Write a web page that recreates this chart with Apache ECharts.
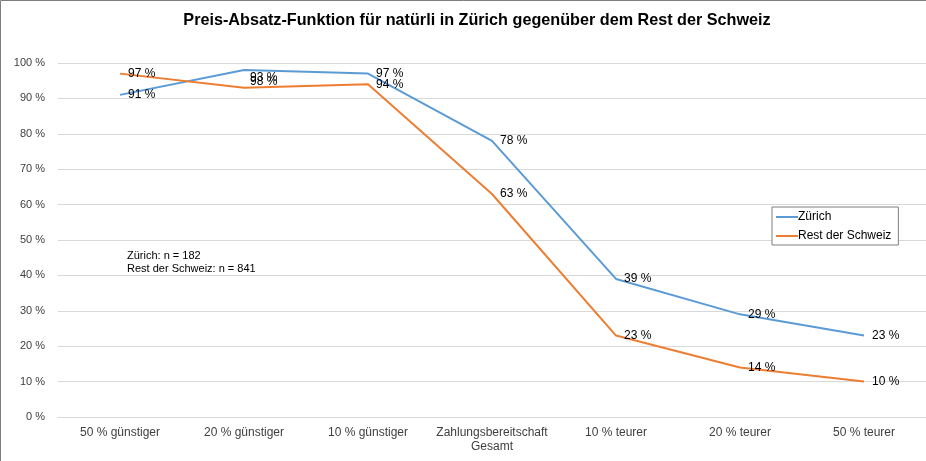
<!DOCTYPE html>
<html>
<head>
<meta charset="utf-8">
<script src="https://cdn.jsdelivr.net/npm/echarts@6/dist/echarts.min.js"></script>
<style>
	html, body { margin: 0; padding: 0; background: #fff; }
	#chart { width: 926px; height: 461px; }
</style>
</head>
<body>
<div id="chart"></div>
<script>
	// Daten
	var categories = ['50 % günstiger', '20 % günstiger', '10 % günstiger', 'Zahlungsbereitschaft\nGesamt', '10 % teurer', '20 % teurer', '50 % teurer'];
	var zuerich = [91, 98, 97, 78, 39, 29, 23];
	var restSchweiz = [97, 93, 94, 63, 23, 14, 10];
	var seriesNames = ['Zürich', 'Rest der Schweiz'];
	var yTicks = [0, 10, 20, 30, 40, 50, 60, 70, 80, 90, 100];
	var noteLines = ['Zürich: n = 182', 'Rest der Schweiz: n = 841'];

	var font = 'Liberation Sans, Arial, sans-serif';

	// Labels in Punkt 2 überlappen im Original leicht versetzt
	function withLabels(values, shift){
		return values.map(function(v, i){
			var item = {value: v};
			if (shift[i]) item.label = {offset: shift[i]};
			return item;
		});
	}

	var chart = echarts.init(document.getElementById('chart'), null, {renderer: 'canvas'});
	var labelStyle = {show: true, position: 'right', distance: 8, formatter: '{c} %', color: '#000', fontSize: 12, fontFamily: font};
	var option = {
		animation: false,
		textStyle: {fontFamily: font},
		title: {
			text: 'Preis-Absatz-Funktion für natürli in Zürich gegenüber dem Rest der Schweiz',
			left: 472,
			textAlign: 'center',
			top: 8,
			textStyle: {fontFamily: font, fontSize: 16.2, fontWeight: 'bold', color: '#000'}
		},
		color: ['#5B9BD5', '#ED7D31'],
		legend: {
			data: seriesNames,
			orient: 'vertical',
			left: 772,
			top: 207,
			icon: 'rect',
			itemWidth: 22,
			itemHeight: 2,
			itemGap: 7,
			padding: [4, 7, 3, 4],
			borderColor: '#7f7f7f',
			borderWidth: 1,
			borderRadius: 0,
			backgroundColor: '#fff',
			textStyle: {fontFamily: font, fontSize: 12, color: '#000', padding: [0, 0, 0, -5]}
		},
		grid: {left: 58, right: 0, top: 63, bottom: 44, containLabel: false},
		xAxis: {
			type: 'category',
			data: categories,
			boundaryGap: true,
			axisTick: {show: false},
			axisLine: {lineStyle: {color: '#d9d9d9'}},
			axisLabel: {color: '#404040', fontSize: 12, margin: 9, interval: 0, lineHeight: 14, fontFamily: font}
		},
		yAxis: {
			type: 'value',
			min: yTicks[0],
			max: yTicks[yTicks.length - 1],
			interval: 10,
			axisLine: {show: false},
			axisTick: {show: false},
			splitLine: {lineStyle: {color: '#d9d9d9'}},
			axisLabel: {color: '#404040', fontSize: 11, margin: 13, formatter: '{value} %', fontFamily: font}
		},
		graphic: [{
			type: 'polyline',
			shape: {points: [[0.5, 461], [0.5, 0.5], [926, 0.5]]},
			style: {fill: 'none', stroke: '#7f7f7f', lineWidth: 1},
			silent: true
		}, {
			type: 'text',
			left: 127,
			top: 250,
			style: {text: noteLines.join('\n'), font: '11px ' + font, fill: '#000', lineHeight: 12.5}
		}],
		series: [{
			name: seriesNames[0],
			type: 'line',
			data: withLabels(zuerich, {1: [-2, 12]}),
			symbol: 'circle',
			symbolSize: 0,
			showSymbol: true,
			lineStyle: {width: 2},
			label: labelStyle
		}, {
			name: seriesNames[1],
			type: 'line',
			data: withLabels(restSchweiz, {1: [-2, -10]}),
			symbol: 'circle',
			symbolSize: 0,
			showSymbol: true,
			lineStyle: {width: 2},
			label: labelStyle
		}]
	};
	chart.setOption(option);
</script>
</body>
</html>
